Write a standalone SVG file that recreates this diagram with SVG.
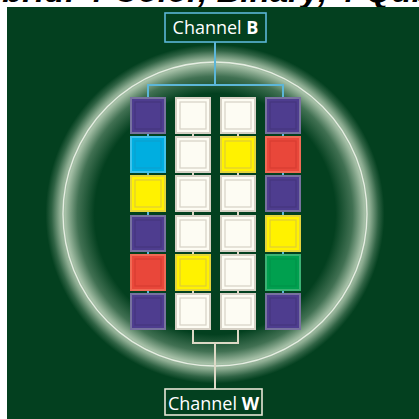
<svg xmlns="http://www.w3.org/2000/svg" width="419" height="419" viewBox="0 0 419 419">
<defs>
<radialGradient id="glow" gradientUnits="userSpaceOnUse" cx="215" cy="214" r="172">
<stop offset="0" stop-color="#b4cbb2" stop-opacity="0"/>
<stop offset="0.70" stop-color="#b4cbb2" stop-opacity="0"/>
<stop offset="0.80" stop-color="#b4cbb2" stop-opacity="0.35"/>
<stop offset="0.87" stop-color="#b8ceb6" stop-opacity="0.9"/>
<stop offset="0.90" stop-color="#b4cbb2" stop-opacity="0.8"/>
<stop offset="0.95" stop-color="#b4cbb2" stop-opacity="0.25"/>
<stop offset="0.985" stop-color="#b4cbb2" stop-opacity="0"/>
</radialGradient>
</defs>
<style>
.title{font-family:"Liberation Sans",Arial,sans-serif;font-weight:bold;font-style:italic;font-size:33px;fill:#000}
.lbl{font-family:"Open Sans","Noto Sans",sans-serif;font-size:18px;fill:#ffffff}
.lbl tspan.b{font-weight:bold}
.blue{stroke:#5cb6d8;stroke-width:2;fill:none}
.cream{stroke:#ddd9c6;stroke-width:2;fill:none}
.box{stroke-width:2}
.in{fill:none;stroke-width:1.3}
.pu .box{fill:#4e3d8f;stroke:#77729f}
.pu .in{stroke:#45367f}
.wh .box{fill:#fdfcf3;stroke:#d6d1c5}
.wh .in{stroke:#d9d4c8}
.ye .box{fill:#fff200;stroke:#e4d43c}
.ye .in{stroke:#e2cf30}
.cy .box{fill:#00aee0;stroke:#40c2ea}
.cy .in{stroke:#0aa2d2}
.re .box{fill:#e9473a;stroke:#f06a55}
.re .in{stroke:#d93e32}
.gr .box{fill:#00a04f;stroke:#3bb274}
.gr .in{stroke:#00944a}
</style>
<rect x="0" y="0" width="419" height="419" fill="#ffffff"/>
<text class="title" x="-40" y="2">Hybrid: 4-Color, Binary, 4-Qubit</text>
<rect x="7" y="7" width="412" height="412" fill="#03401f"/>
<circle cx="215" cy="214" r="172" fill="url(#glow)"/>
<circle cx="215" cy="214" r="152" fill="none" stroke="#e6eee2" stroke-width="1.3"/>

<g id="connectors">
<path class="blue" d="M215 42V85M148 98V85H283V98"/>
<path class="blue" d="M148 133V137M148 172V176M148 211V216M148 251V255M148 290V294"/>
<path class="blue" d="M283 133V137M283 172V176M283 211V216M283 251V255M283 290V294"/>
<path class="cream" d="M193 133V137M193 172V176M193 211V216M193 251V255M193 290V294"/>
<path class="cream" d="M238 133V137M238 172V176M238 211V216M238 251V255M238 290V294"/>
<path class="cream" d="M193 329V343H238V329M215 343V389"/>
</g>

<g id="channelB">
<rect x="165" y="13" width="101" height="29" fill="#03401f" stroke="#5cb6d8" stroke-width="1.6"/>
<text class="lbl" x="215.5" y="34" text-anchor="middle">Channel <tspan class="b">B</tspan></text>
</g>
<g id="channelW">
<rect x="165" y="389" width="97" height="26" fill="#03401f" stroke="#e8e6d6" stroke-width="1.6"/>
<text class="lbl" x="213.5" y="410" text-anchor="middle">Channel <tspan class="b">W</tspan></text>
</g>

<g id="r1c1" class="pu"><rect class="box" x="131" y="98" width="34" height="35"/><rect class="in" x="135" y="102" width="26" height="27"/></g>
<g id="r1c2" class="wh"><rect class="box" x="176" y="98" width="34" height="35"/><rect class="in" x="180" y="102" width="26" height="27"/></g>
<g id="r1c3" class="wh"><rect class="box" x="221" y="98" width="34" height="35"/><rect class="in" x="225" y="102" width="26" height="27"/></g>
<g id="r1c4" class="pu"><rect class="box" x="266" y="98" width="34" height="35"/><rect class="in" x="270" y="102" width="26" height="27"/></g>

<g id="r2c1" class="cy"><rect class="box" x="131" y="137" width="34" height="35"/><rect class="in" x="135" y="141" width="26" height="27"/></g>
<g id="r2c2" class="wh"><rect class="box" x="176" y="137" width="34" height="35"/><rect class="in" x="180" y="141" width="26" height="27"/></g>
<g id="r2c3" class="ye"><rect class="box" x="221" y="137" width="34" height="35"/><rect class="in" x="225" y="141" width="26" height="27"/></g>
<g id="r2c4" class="re"><rect class="box" x="266" y="137" width="34" height="35"/><rect class="in" x="270" y="141" width="26" height="27"/></g>

<g id="r3c1" class="ye"><rect class="box" x="131" y="176" width="34" height="35"/><rect class="in" x="135" y="180" width="26" height="27"/></g>
<g id="r3c2" class="wh"><rect class="box" x="176" y="176" width="34" height="35"/><rect class="in" x="180" y="180" width="26" height="27"/></g>
<g id="r3c3" class="wh"><rect class="box" x="221" y="176" width="34" height="35"/><rect class="in" x="225" y="180" width="26" height="27"/></g>
<g id="r3c4" class="pu"><rect class="box" x="266" y="176" width="34" height="35"/><rect class="in" x="270" y="180" width="26" height="27"/></g>

<g id="r4c1" class="pu"><rect class="box" x="131" y="216" width="34" height="35"/><rect class="in" x="135" y="220" width="26" height="27"/></g>
<g id="r4c2" class="wh"><rect class="box" x="176" y="216" width="34" height="35"/><rect class="in" x="180" y="220" width="26" height="27"/></g>
<g id="r4c3" class="wh"><rect class="box" x="221" y="216" width="34" height="35"/><rect class="in" x="225" y="220" width="26" height="27"/></g>
<g id="r4c4" class="ye"><rect class="box" x="266" y="216" width="34" height="35"/><rect class="in" x="270" y="220" width="26" height="27"/></g>

<g id="r5c1" class="re"><rect class="box" x="131" y="255" width="34" height="35"/><rect class="in" x="135" y="259" width="26" height="27"/></g>
<g id="r5c2" class="ye"><rect class="box" x="176" y="255" width="34" height="35"/><rect class="in" x="180" y="259" width="26" height="27"/></g>
<g id="r5c3" class="wh"><rect class="box" x="221" y="255" width="34" height="35"/><rect class="in" x="225" y="259" width="26" height="27"/></g>
<g id="r5c4" class="gr"><rect class="box" x="266" y="255" width="34" height="35"/><rect class="in" x="270" y="259" width="26" height="27"/></g>

<g id="r6c1" class="pu"><rect class="box" x="131" y="294" width="34" height="35"/><rect class="in" x="135" y="298" width="26" height="27"/></g>
<g id="r6c2" class="wh"><rect class="box" x="176" y="294" width="34" height="35"/><rect class="in" x="180" y="298" width="26" height="27"/></g>
<g id="r6c3" class="wh"><rect class="box" x="221" y="294" width="34" height="35"/><rect class="in" x="225" y="298" width="26" height="27"/></g>
<g id="r6c4" class="pu"><rect class="box" x="266" y="294" width="34" height="35"/><rect class="in" x="270" y="298" width="26" height="27"/></g>
</svg>
